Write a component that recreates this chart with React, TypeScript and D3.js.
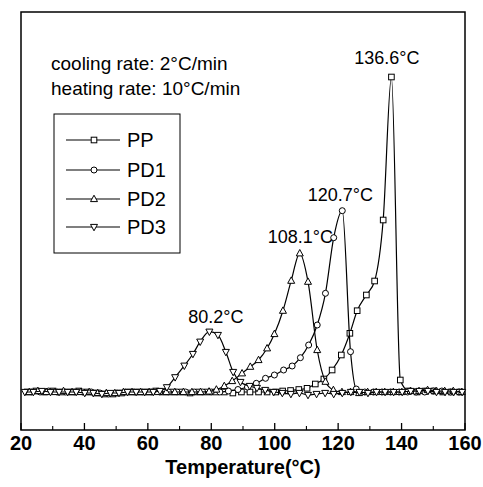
import React from 'react';
import * as d3 from 'd3';

// temperature (°C) / heat flow (arb. units, endo up)
const ppT = [22.0, 24.7, 27.4, 30.1, 32.8, 35.5, 38.2, 40.9, 43.6, 46.3, 49.0, 51.7, 54.4, 57.1, 59.8, 62.5, 65.2, 67.9, 70.6, 73.3, 76.0, 78.7, 81.4, 84.1, 86.8, 89.5, 92.2, 94.9, 97.6, 100.3, 102.5, 105.0, 107.6, 110.2, 112.8, 115.5, 118.1, 121.0, 123.7, 126.0, 128.9, 131.5, 134.2, 136.8, 139.6, 142.2, 144.9, 147.6, 150.3, 153.0, 155.7, 158.4];
const ppV = [0, 1, 0, 1, 0, 0, 1, 0, -1, -2, -2, -1, 0, 0, 0, 1, 0, 0, 0, -1, 0, 0, 0, 0, -1, 0, 0, 0, 0, 0, 1, 1.5, 2.5, 3.7, 8, 13, 22, 37, 58.7, 81.3, 97, 111, 172, 315, 12, 1, 0, 1, 1, 0, 0, 0];

const pd1T = [23.3, 26.0, 28.7, 31.4, 34.1, 36.8, 39.5, 42.2, 44.9, 47.6, 50.3, 53.0, 55.7, 58.4, 61.1, 63.8, 66.5, 69.2, 71.9, 74.6, 77.3, 80.0, 82.7, 85.4, 88.4, 91.4, 94.2, 97.1, 99.9, 102.8, 105.5, 108.1, 110.7, 113.4, 116.0, 118.6, 121.3, 123.9, 125.7, 128.4, 131.1, 133.8, 136.5, 139.2, 141.9, 144.6, 147.3, 150.0, 152.7, 155.4, 158.1];
const pd1V = [0, 0, 1, 0, 0, 0, 0, 0, -1, -2, -1, 0, 0, 0, 0, 0, 0, 0, 0, 0, 0, 0, 0, 1, 2.5, 5, 8.7, 13.7, 17, 22, 26, 34.3, 47, 67, 98.7, 154.3, 181.3, 40.3, 3, 0, 0, 0, 0, 0, 0, 0, 0, 1, 1, 0, 0];

const pd2T = [22.6, 25.3, 28.0, 30.7, 33.4, 36.1, 38.8, 41.5, 44.2, 46.9, 49.6, 52.3, 55.0, 57.7, 60.4, 63.1, 65.8, 68.5, 71.2, 73.9, 76.6, 79.3, 81.6, 84.1, 86.6, 89.7, 92.3, 94.9, 97.6, 99.9, 102.6, 105.2, 107.9, 110.5, 113.4, 116.0, 118.5, 121.2, 123.9, 126.6, 129.3, 132.0, 134.7, 137.4, 140.1, 142.8, 145.5, 148.2, 150.9, 153.6, 156.3, 159.0];
const pd2V = [0, 1, 0, 0, 1, 0, 0, 0, -1, -1, -1, 0, 0, 0, 0, 0, 0, 0, 0, 0, 0, 0.5, 2.5, 6, 11, 18.7, 25.3, 32, 43.7, 58, 81.3, 111.3, 138.7, 110.3, 42, 10.3, 2, 0, 0, -1, 0, 0, 0, 0, 0, 1, 1, 2, 1, 1, 1, 0];

const pd3T = [21.2, 23.9, 26.6, 29.3, 32.0, 34.7, 37.4, 40.1, 42.8, 45.5, 48.2, 50.9, 53.6, 56.3, 59.0, 61.7, 63.8, 66.0, 68.6, 71.5, 74.2, 76.5, 79.4, 82.1, 84.6, 86.9, 89.2, 92.1, 94.4, 97.0, 99.7, 102.4, 105.1, 107.8, 110.5, 113.2, 115.9, 118.6, 121.3, 124.0, 126.7, 129.4, 132.1, 134.8, 137.5, 140.2, 142.9, 145.6, 148.3, 151.0, 153.7, 156.4, 159.1];
const pd3V = [0, 0, 1, 0, 0, 0, 0, -1, -1, -2, -1, -1, 0, 0, 0, 0, 1, 4.7, 14.7, 26.3, 38, 50.3, 60.3, 57, 40, 20, 10, 6, 4, 2, 0, -1, -2, -1, -3, -2, -1, -2, -1, 0, 0, -1, 0, 0, 0, 0, 1, 1, 1, 0, 0, 0, 0];

const seriesNames = ['PP', 'PD1', 'PD2', 'PD3'];
const seriesMarkers = ['square', 'circle', 'up', 'down'];

const peakLabels = ['80.2°C', '108.1°C', '120.7°C', '136.6°C'];
const peakAt = [80.2, 108.1, 120.7, 136.6];
const peakTop = [60.3, 138.7, 181.3, 315];

const xTicks = [20, 40, 60, 80, 100, 120, 140, 160];
const xMinor = [30, 50, 70, 90, 110, 130, 150];

const W = 483, H = 487;
const left = 21, right = 465, top = 12, bottom = 430;

const font = '"Liberation Sans", Arial, sans-serif';

function Marker({ kind, x, y }: { kind: string; x: number; y: number }) {
  const st = { fill: 'white', stroke: 'black', strokeWidth: 1 };
  if (kind === 'circle') return <circle cx={x} cy={y} r={3} {...st} />;
  if (kind === 'square') return <rect x={x - 2.8} y={y - 2.8} width={5.6} height={5.6} {...st} />;
  if (kind === 'up') return <path d={`M${x},${y - 3.8}L${x + 3.5},${y + 2.6}L${x - 3.5},${y + 2.6}Z`} {...st} />;
  return <path d={`M${x},${y + 3.8}L${x + 3.5},${y - 2.6}L${x - 3.5},${y - 2.6}Z`} {...st} />;
}

export default function App() {
  const x = d3.scaleLinear().domain([20, 160]).range([left, right]);
  const y = d3.scaleLinear().domain([-38, 380]).range([bottom, top]);

  const all = [
    { T: ppT, V: ppV },
    { T: pd1T, V: pd1V },
    { T: pd2T, V: pd2V },
    { T: pd3T, V: pd3V },
  ].map((s, i) => ({
    name: seriesNames[i],
    marker: seriesMarkers[i],
    pts: s.T.map((t, j) => [t, s.V[j]] as [number, number]),
  }));

  const line = d3
    .line<[number, number]>()
    .x(d => x(d[0]))
    .y(d => y(d[1]))
    .curve(d3.curveMonotoneX);

  const legendY = [140, 170, 199, 227];

  return (
    <svg width={W} height={H} style={{ position: 'absolute', left: 0, top: 0, background: 'white' }} fontFamily={font}>
      <rect width={W} height={H} fill="white" />
      <rect x={left} y={top} width={right - left} height={bottom - top} fill="none" stroke="black" strokeWidth={1.5} />

      {/* ticks, pointing inward */}
      {xTicks.map(t => (
        <line key={'M' + t} x1={x(t)} x2={x(t)} y1={bottom} y2={bottom - 7} stroke="black" strokeWidth={1.3} />
      ))}
      {xMinor.map(t => (
        <line key={'m' + t} x1={x(t)} x2={x(t)} y1={bottom} y2={bottom - 4} stroke="black" strokeWidth={1.1} />
      ))}
      {xTicks.map(t => (
        <text key={'l' + t} x={x(t)} y={450} textAnchor="middle" fontSize={20} fontWeight="bold">{t}</text>
      ))}
      <text x={(left + right) / 2} y={474} textAnchor="middle" fontSize={20} fontWeight="bold">Temperature(°C)</text>

      {/* traces */}
      {all.map(s => (
        <g key={s.name}>
          <path d={line(s.pts) || ''} fill="none" stroke="black" strokeWidth={1.2} />
          {s.pts.map((p, j) => (
            <Marker key={j} kind={s.marker} x={x(p[0])} y={y(p[1])} />
          ))}
        </g>
      ))}

      {/* peak temperatures */}
      {peakLabels.map((lab, i) => (
        <text key={lab} x={x(peakAt[i]) + (i === 3 ? -4 : i === 0 ? 4 : 0)} y={y(peakTop[i]) - (i === 0 ? 9 : i === 3 ? 13 : 10)} textAnchor="middle" fontSize={18}>{lab}</text>
      ))}

      <text x={51} y={70} fontSize={19}>cooling rate: 2°C/min</text>
      <text x={51} y={95} fontSize={19}>heating rate: 10°C/min</text>

      {/* legend */}
      <rect x={54} y={114} width={126} height={139} fill="white" stroke="black" strokeWidth={1} />
      {all.map((s, i) => (
        <g key={'lg' + s.name}>
          <line x1={66} x2={120} y1={legendY[i]} y2={legendY[i]} stroke="black" strokeWidth={1.2} />
          <Marker kind={s.marker} x={94} y={legendY[i]} />
          <text x={127} y={legendY[i] + 7} fontSize={20}>{s.name}</text>
        </g>
      ))}
    </svg>
  );
}
